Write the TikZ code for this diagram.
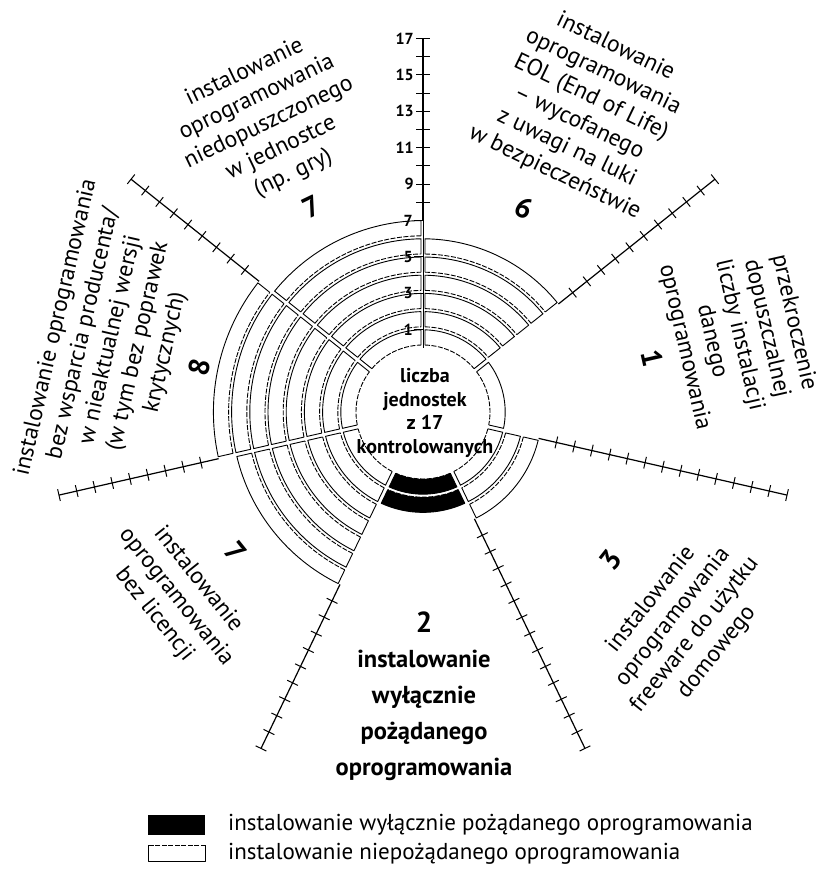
\documentclass[tikz,border=0pt]{standalone}
\usepackage{fontspec}
\setmainfont{PT Sans}

\begin{document}
\begin{tikzpicture}[x=1pt,y=1pt]
  \tikzstyle{band} = [line width=0.9pt, line join=round]
  \tikzstyle{inner} = [line width=0.9pt, dash pattern=on 5pt off 1.5pt]
  \tikzstyle{spoke} = [draw, line width=1.2pt]
  \tikzstyle{tick} = [draw, line width=1pt]
  \tikzstyle{txt} = [align=center, font=\fontsize{23.5}{28}\selectfont, inner sep=0pt]
  \tikzstyle{txtB} = [align=center, font=\fontsize{24.5}{36}\selectfont\bfseries, inner sep=0pt]
  \tikzstyle{num} = [font=\fontsize{29}{30}\selectfont\bfseries, inner sep=0pt]
  \tikzstyle{axlabel} = [font=\fontsize{16}{16}\selectfont\bfseries, inner sep=1pt]

  \useasboundingbox (-423,-460) rectangle (396,412);

  % bands: start angle / value / fill
  \foreach \as/\v/\col in {90/7/white, 38.57/6/white, -12.86/1/white, -64.29/3/white,
                           -115.71/2/black, -167.14/7/white, 141.43/8/white}
  {
    \foreach \k in {1,...,\v}
    {
      \pgfmathsetmacro\ri{64+18.2*(\k-1)+3}
      \pgfmathsetmacro\ro{64+18.2*\k}
      \pgfmathsetmacro\ai{\as+2/\ri*57.3}
      \pgfmathsetmacro\bi{\as+51.43-2/\ri*57.3}
      \pgfmathsetmacro\ao{\as+2/\ro*57.3}
      \pgfmathsetmacro\bo{\as+51.43-2/\ro*57.3}
      \fill[\col] (\ai:\ri) -- (\ao:\ro) arc[start angle=\ao, end angle=\bo, radius=\ro]
        -- (\bi:\ri) arc[start angle=\bi, end angle=\ai, radius=\ri] -- cycle;
      \draw[band] (\ai:\ri) -- (\ao:\ro) arc[start angle=\ao, end angle=\bo, radius=\ro] -- (\bi:\ri);
      \draw[inner] (\bi:\ri) arc[start angle=\bi, end angle=\ai, radius=\ri];
    }
  }

  % vertical axis
  \draw[tick] (90:64) -- (90:191.4);
  \draw[spoke] (90:191.4) -- (90:373.4);
  \foreach \t in {8,...,17}
  {
    \pgfmathsetmacro\rt{64+18.2*\t}
    \draw[tick] (-7,\rt) -- (7,\rt);
  }
  \foreach \t in {1,3,5,7}
  {
    \pgfmathsetmacro\rt{64+18.2*\t}
    \draw[tick] (-9,\rt) -- (0,\rt);
    \node[axlabel, anchor=east] (lab\t) at (-9,\rt) {\t};
  }
  \foreach \t in {9,11,...,17}
  {
    \pgfmathsetmacro\rt{64+18.2*\t}
    \node[axlabel, anchor=east] (lab\t) at (-8,\rt) {\t};
  }

  % other axes: angle / first value
  \foreach \a/\s in {38.57/6, -12.86/3, -64.29/3, -115.71/7, -167.14/8, 141.43/8}
  {
    \pgfmathsetmacro\rs{64+18.2*\s}
    \draw[spoke] (\a:\rs) -- (\a:373.4);
    \pgfmathtruncatemacro\f{\s+1}
    \foreach \t in {\f,...,17}
    {
      \pgfmathsetmacro\rt{64+18.2*\t}
      \draw[tick, shift={(\a:\rt)}, rotate=\a] (0,-6) -- (0,6);
    }
  }

  \node[align=center, font=\fontsize{20}{23.5}\selectfont\bfseries] (centre) at (2,-1)
    {liczba\\jednostek\\z 17\\kontrolowanych};

  % sector labels
  \node[num, rotate=25.71] (n7a) at (-111,205) {7};
  \node[txt, rotate=25.71] (t7a) at (-154,289)
    {instalowanie\\oprogramowania\\niedopuszczonego\\w jednostce\\(np. gry)};
  \node[num, rotate=-25.71] (n6) at (101,204) {6};
  \node[txt, rotate=-25.71] (t6) at (162,302)
    {instalowanie\\oprogramowania\\EOL (End of Life)\\– wycofanego\\z uwagi na luki\\w bezpieczeństwie};
  \node[num, rotate=-77.14] (n1) at (229,54) {1};
  \node[txt, rotate=-77.14] (t1) at (316,77)
    {przekroczenie\\dopuszczalnej\\liczby instalacji\\danego\\oprogramowania};
  \node[num, rotate=51.43] (n3) at (188,-148) {3};
  \node[txt, rotate=51.43] (t3) at (261,-214)
    {instalowanie\\oprogramowania\\freeware do użytku\\domowego};
  \node[num] (n2) at (1,-210) {2};
  \node[txtB] (t2) at (1,-303)
    {instalowanie\\wyłącznie\\pożądanego\\oprogramowania};
  \node[num, rotate=-51.43] (n7b) at (-187,-140) {7};
  \node[txt, rotate=-51.43] (t7b) at (-247,-185)
    {instalowanie\\oprogramowania\\bez licencji};
  \node[num, rotate=77.14] (n8) at (-224,45) {8};
  \node[txt, rotate=77.14] (t8) at (-312,72)
    {instalowanie oprogramowania\\bez wsparcia producenta/\\w nieaktualnej wersji\\(w tym bez poprawek\\krytycznych)};

  % legend
  \node[fill=black, minimum width=57pt, minimum height=20pt, inner sep=0pt] (legBlack) at (-246,-413) {};
  \node[minimum width=57pt, minimum height=16pt, inner sep=0pt] (legWhite) at (-246,-441.5) {};
  \draw[band] (legWhite.north west) -- (legWhite.south west) -- (legWhite.south east) -- (legWhite.north east);
  \draw[inner] (legWhite.north east) -- (legWhite.north west);
  \node[txt, anchor=west, font=\fontsize{23}{24}\selectfont] (legTxtA) at (-195,-413)
    {instalowanie wyłącznie pożądanego oprogramowania};
  \node[txt, anchor=west, font=\fontsize{23}{24}\selectfont] (legTxtB) at (-195,-442)
    {instalowanie niepożądanego oprogramowania};
\end{tikzpicture}
\end{document}
